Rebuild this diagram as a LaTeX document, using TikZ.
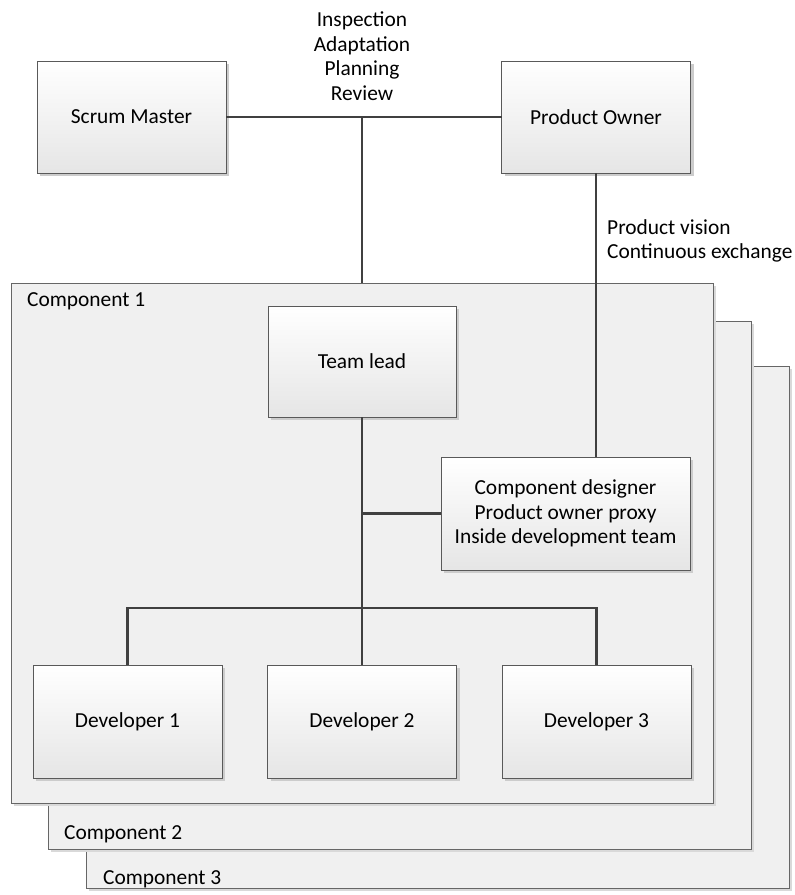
\documentclass[tikz,border=0pt]{standalone}
\usepackage{fontspec}
\setmainfont{Carlito}
\usetikzlibrary{shadows}
\begin{document}
\begin{tikzpicture}[x=1pt,y=-1pt,font=\fontsize{21.4}{24.5}\selectfont,
  role/.style={draw=black!65,line width=.9pt,top color=white,bottom color=black!10,inner sep=0pt,outer sep=0pt,
    minimum width=189pt,minimum height=112pt,align=center,
    drop shadow={shadow xshift=3pt,shadow yshift=-3pt,fill=black!20,opacity=1}},
  frame/.style={draw=black!60,line width=.9pt,fill=black!6,inner sep=0pt,outer sep=0pt,
    drop shadow={shadow xshift=3pt,shadow yshift=-3pt,fill=black!15,opacity=1}},
  link/.style={draw=black!75,line width=2.6pt},
  tag/.style={inner sep=0pt,align=left}]
\useasboundingbox (0,0) rectangle (795,895);
\node[frame,minimum width=703pt,minimum height=522pt] (comp3) at (437.5,627) {};
\node[frame,minimum width=703pt,minimum height=528pt] (comp2) at (399.5,585) {};
\node[frame,minimum width=702pt,minimum height=520pt] (comp1) at (362,543) {};
\node[tag,anchor=west] (comp1label) at (27,301) {Component 1};
\node[tag,anchor=west] (comp2label) at (64,834) {Component 2};
\node[tag,anchor=west] (comp3label) at (103,879) {Component 3};
\node[role] (sm) at (131.5,117) {Scrum Master};
\node[role] (po) at (596,117) {Product Owner};
\node[role,minimum width=188pt,minimum height=111pt] (lead) at (362,361.5) {Team lead};
\node[role,minimum width=249pt,minimum height=113pt] (cd) at (565.5,513.5) {Component designer\\Product owner proxy\\Inside development team};
\foreach \i/\x in {1/127.5,2/362,3/596.5}{
  \node[role,minimum height=113pt] (dev\i) at (\x,721.5) {Developer \i};
}
\coordinate (bus) at (362,608);
\draw[link] (sm.east) -- (po.west);
\draw[link] (comp1.north) -- (comp1.north |- sm.east);
\draw[link] (po.south) -- (po.south |- cd.north);
\draw[link] (lead.south) -- (dev2.north);
\draw[link] (cd.west) -- (cd.west -| lead.south);
\draw[link] (dev1.north) |- (bus) -| (dev3.north);
\node[tag,align=center] (ceremonies) at (362,56) {Inspection\\Adaptation\\Planning\\Review};
\node[tag,anchor=west] (vision) at (607,241) {Product vision\\Continuous exchange};
\end{tikzpicture}
\end{document}
